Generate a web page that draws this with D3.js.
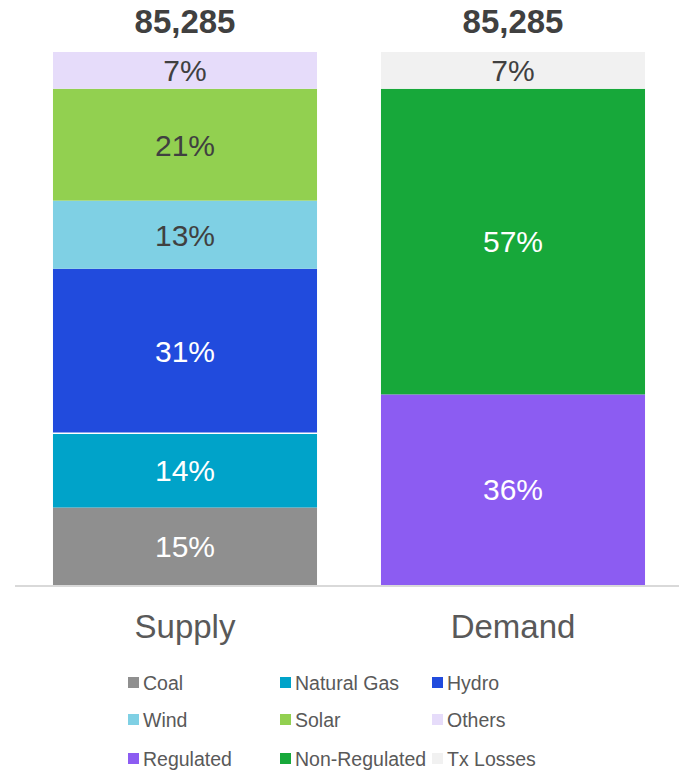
<!DOCTYPE html>
<html>
<head>
<meta charset="utf-8">
<script src="https://cdn.jsdelivr.net/npm/d3@7"></script>
<style>
  body { margin: 0; background: #fff; }
  text { font-family: "Liberation Sans", Arial, sans-serif; }
</style>
</head>
<body>
<script>
var width = 679,
    height = 771;

// data
var categories = ['Supply', 'Demand'];
var supplyNames = ['Coal', 'Natural Gas', 'Hydro', 'Wind', 'Solar', 'Others'];
var supplyValues = [12400, 11900, 26300, 10900, 17900, 5885];
var demandNames = ['Regulated', 'Non-Regulated', 'Tx Losses'];
var demandValues = [30500, 48900, 5885];

var legendNames = ['Coal', 'Natural Gas', 'Hydro', 'Wind', 'Solar', 'Others',
                   'Regulated', 'Non-Regulated', 'Tx Losses'];

var colors = {
    'Coal': '#8f8f8f',
    'Natural Gas': '#00a3c9',
    'Hydro': '#214bdd',
    'Wind': '#7fd0e4',
    'Solar': '#92d050',
    'Others': '#e6dcfa',
    'Regulated': '#8c5cf2',
    'Non-Regulated': '#17a83a',
    'Tx Losses': '#f1f1f1'
};
var darkText = ['Wind', 'Solar', 'Others', 'Tx Losses'];

var svg = d3.select('body').append('svg')
    .attr('width', width)
    .attr('height', height);

var x = d3.scaleBand()
    .domain(categories)
    .range([21, 677])
    .paddingInner(0.195)
    .paddingOuter(0.0975);

var total = d3.sum(supplyValues);

var y = d3.scaleLinear()
    .domain([0, total])
    .range([585, 52]);

function stackOf(cat, names, values) {
    var acc = 0;
    return names.map(function(n, i) {
        var d = {cat: cat, name: n, y0: acc, y1: acc + values[i], v: values[i]};
        acc += values[i];
        return d;
    });
}

var segs = stackOf('Supply', supplyNames, supplyValues)
    .concat(stackOf('Demand', demandNames, demandValues));

svg.selectAll('rect.seg')
    .data(segs)
  .enter().append('rect')
    .attr('class', 'seg')
    .attr('x', function(d) { return x(d.cat); })
    .attr('width', x.bandwidth())
    .attr('y', function(d) { return y(d.y1); })
    .attr('height', function(d) { return y(d.y0) - y(d.y1); })
    .style('fill', function(d) { return colors[d.name]; });

// thin white separation between hydro and gas
svg.append('line')
    .attr('x1', x('Supply')).attr('x2', x('Supply') + x.bandwidth())
    .attr('y1', y(supplyValues[0] + supplyValues[1]))
    .attr('y2', y(supplyValues[0] + supplyValues[1]))
    .style('stroke', '#fff').style('stroke-width', 1.5);

svg.selectAll('text.pct')
    .data(segs)
  .enter().append('text')
    .attr('class', 'pct')
    .attr('x', function(d) { return x(d.cat) + x.bandwidth() / 2; })
    .attr('y', function(d) { return (y(d.y0) + y(d.y1)) / 2; })
    .attr('dy', '0.36em')
    .attr('text-anchor', 'middle')
    .style('font-size', '30px')
    .style('fill', function(d) { return darkText.indexOf(d.name) >= 0 ? '#404040' : '#fff'; })
    .text(function(d) { return Math.round(d.v / total * 100) + '%'; });

// totals on top
var fmt = d3.format(',');
svg.selectAll('text.total')
    .data([{cat: 'Supply', v: d3.sum(supplyValues)}, {cat: 'Demand', v: d3.sum(demandValues)}])
  .enter().append('text')
    .attr('class', 'total')
    .attr('x', function(d) { return x(d.cat) + x.bandwidth() / 2; })
    .attr('y', 33)
    .attr('text-anchor', 'middle')
    .style('font-size', '33px')
    .style('font-weight', 'bold')
    .style('fill', '#404040')
    .text(function(d) { return fmt(d.v); });

// baseline
svg.append('line')
    .attr('x1', 15).attr('x2', 679)
    .attr('y1', y(0) + 1).attr('y2', y(0) + 1)
    .style('stroke', '#d9d9d9').style('stroke-width', 2);

// category labels
svg.selectAll('text.cat')
    .data(categories)
  .enter().append('text')
    .attr('class', 'cat')
    .attr('x', function(d) { return x(d) + x.bandwidth() / 2; })
    .attr('y', 638)
    .attr('text-anchor', 'middle')
    .style('font-size', '33px')
    .style('fill', '#595959')
    .text(function(d) { return d; });

// legend, 3 columns
var legend = svg.selectAll('g.leg')
    .data(legendNames)
  .enter().append('g')
    .attr('class', 'leg')
    .attr('transform', function(d, i) {
        var col = i % 3, row = Math.floor(i / 3);
        var ys = [683, 720, 759];
        return 'translate(' + (128 + col * 152) + ',' + ys[row] + ')';
    });

legend.append('rect')
    .attr('x', 0).attr('y', -6)
    .attr('width', 11).attr('height', 11)
    .style('fill', function(d) { return colors[d]; });

legend.append('text')
    .attr('x', 15)
    .attr('dy', '0.35em')
    .style('font-size', '19.5px')
    .style('fill', '#595959')
    .text(function(d) { return d; });
</script>
</body>
</html>
